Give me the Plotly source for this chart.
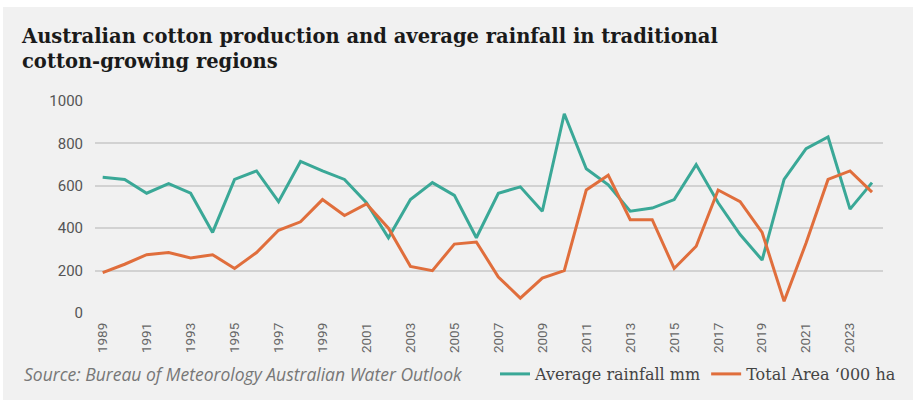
import plotly.graph_objects as go

years = list(range(1989, 2025))
rainfall_mm = [640, 630, 565, 610, 565, 380, 630, 670, 525, 715, 670, 630,
               520, 355, 535, 615, 555, 355, 565, 595, 480, 940, 680, 605,
               480, 495, 535, 700, 520, 370, 250, 630, 775, 830, 490, 615]
area_000ha = [190, 230, 275, 285, 260, 275, 210, 285, 390, 430, 535, 460,
              515, 400, 220, 200, 325, 335, 170, 70, 165, 200, 580, 650,
              440, 440, 210, 315, 580, 525, 380, 55, 330, 630, 670, 570]
x_tick_years = list(range(1989, 2024, 2))
y_ticks = [0, 200, 400, 600, 800, 1000]

TEAL = "#3aa897"
ORANGE = "#e06e3c"

fig = go.Figure()
fig.add_trace(go.Scatter(x=years, y=rainfall_mm, mode="lines", name="Average rainfall mm",
                         line=dict(color=TEAL, width=3)))
fig.add_trace(go.Scatter(x=years, y=area_000ha, mode="lines", name="Total Area \u2018000 ha",
                         line=dict(color=ORANGE, width=3)))

W, H = 914, 405
L, R, T, B = 95, 31, 101, 92
pw, ph = W - L - R, H - T - B

def px(xp):
    return (xp - L) / pw

def py(yp):
    return (H - B - yp) / ph

fig.add_shape(type="rect", xref="paper", yref="paper", x0=px(3), x1=px(913), y0=py(400), y1=py(7),
              fillcolor="#f1f1f1", line=dict(width=0), layer="below")

fig.update_layout(
    width=W, height=H,
    margin=dict(l=L, r=R, t=T, b=B),
    paper_bgcolor="white", plot_bgcolor="rgba(0,0,0,0)",
    title=dict(text="<b>Australian cotton production and average rainfall in traditional<br>cotton-growing regions</b>",
               x=22 / W, xanchor="left", xref="container", y=1 - 43 / H, yanchor="top", yref="container",
               font=dict(family="DejaVu Serif", size=19.5, color="#1a1a1a")),
    showlegend=True,
    legend=dict(orientation="h", x=px(495), xanchor="left", y=py(374), yanchor="middle",
                font=dict(family="DejaVu Serif", size=16, color="#444444"),
                bgcolor="rgba(0,0,0,0)", itemwidth=30, traceorder="normal"),
    xaxis=dict(range=[1988.65, 2024.5], tickmode="array", tickvals=x_tick_years,
               ticktext=[str(y) for y in x_tick_years], tickangle=-90,
               showgrid=False, zeroline=False, showline=False,
               tickfont=dict(family="Liberation Sans Narrow, Roboto, sans-serif", size=13.5, color="#666666"),
               ticks="", ticklabelstandoff=6),
    yaxis=dict(range=[0, 1000], tickmode="array", tickvals=y_ticks, showgrid=True,
               gridcolor="#d2d2d2", gridwidth=1.5, zeroline=False, showline=False,
               tickfont=dict(family="Liberation Sans Narrow, Roboto, sans-serif", size=15, color="#555555"),
               ticks="", ticklabelstandoff=11),
)

fig.add_annotation(text="<i>Source: Bureau of Meteorology Australian Water Outlook</i>",
                   xref="paper", yref="paper", x=px(22), y=py(374), xanchor="left", yanchor="middle",
                   showarrow=False, font=dict(family="Open Sans", size=17.5, color="#777777"))

fig.write_html("out.html", config={"displayModeBar": False},
               post_script="document.body.style.margin='0';")
